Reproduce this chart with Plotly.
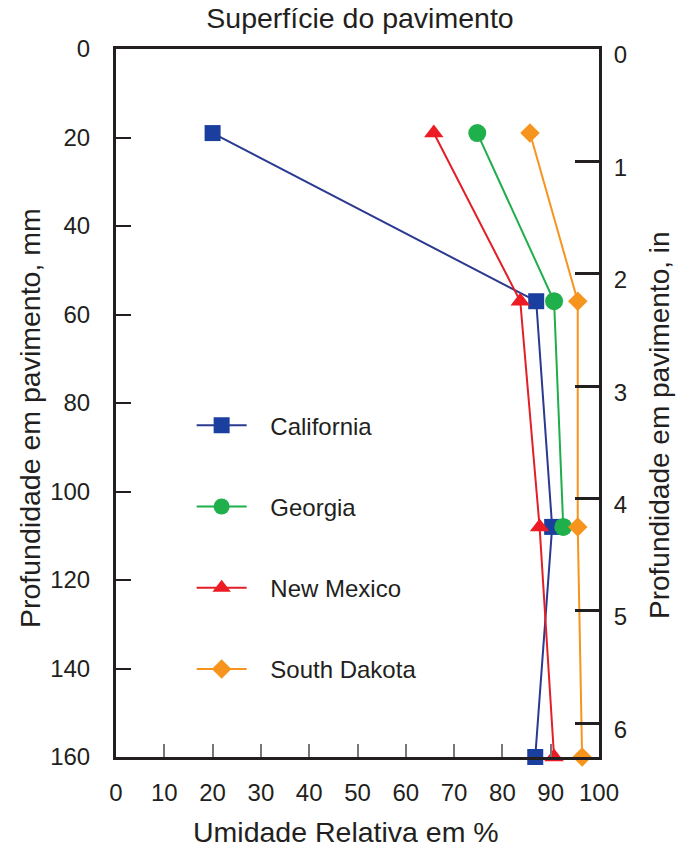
import plotly.graph_objects as go

series_names = ["California", "Georgia", "New Mexico", "South Dakota"]
cal_rh = [20, 87, 90.3, 86.8]
cal_depth = [19, 57, 108, 160]
geo_rh = [74.8, 90.7, 92.6]
geo_depth = [19, 57, 108]
nm_rh = [65.8, 83.7, 87.7, 90.7]
nm_depth = [19, 57, 108, 160]
sd_rh = [85.7, 95.6, 95.6, 96.5]
sd_depth = [19, 57, 108, 160]

x_ticks = [0, 10, 20, 30, 40, 50, 60, 70, 80, 90, 100]
y_ticks_mm = [0, 20, 40, 60, 80, 100, 120, 140, 160]
y_ticks_in = [0, 1, 2, 3, 4, 5, 6]
MM_PER_IN = 25.4

colors = {"California": "#2b3990", "Georgia": "#1fae4b", "New Mexico": "#e21f26", "South Dakota": "#f7941d"}
mcolors = {"California": "#1b3f9e", "Georgia": "#1fb04c", "New Mexico": "#ed1c24", "South Dakota": "#f7941d"}
symbols = {"California": "square", "Georgia": "circle", "New Mexico": "triangle-up", "South Dakota": "diamond"}
sizes = {"California": 16, "Georgia": 18, "New Mexico": 17, "South Dakota": 15}
data = {"California": (cal_rh, cal_depth), "Georgia": (geo_rh, geo_depth),
        "New Mexico": (nm_rh, nm_depth), "South Dakota": (sd_rh, sd_depth)}

FONT = "Liberation Sans, Arial, sans-serif"
TXT = "#231f20"
GAP = "\u2002\u00a0"
fig = go.Figure()
for name in series_names:
    xs, ys = data[name]
    fig.add_trace(go.Scatter(
        x=xs, y=ys, name=GAP + name, mode="lines+markers",
        line=dict(color=colors[name], width=2),
        marker=dict(symbol=symbols[name], size=sizes[name], color=mcolors[name]),
        cliponaxis=False, legendgroup=name,
    ))

fig.add_trace(go.Scatter(x=[0], y=[0], yaxis="y2", mode="markers",
                         marker=dict(opacity=0), showlegend=False, hoverinfo="skip"))

L, R, T, B = 116, 77, 49, 91
W, H = 676, 848
pw, ph = W - L - R, H - T - B

fig.update_layout(
    width=W, height=H,
    paper_bgcolor="white", plot_bgcolor="white",
    margin=dict(l=L, r=R, t=T, b=B, autoexpand=False),
    font=dict(family=FONT, size=24, color=TXT),
    title=dict(text="Superfície do pavimento", xref="container", yref="container",
               x=360 / W, xanchor="center", y=1 - 18 / H, yanchor="middle",
               font=dict(size=28.5, family=FONT, color=TXT)),
    xaxis=dict(range=[0, 100], tickvals=x_ticks, ticks="inside", ticklen=13, tickwidth=1.5,
               tickcolor="#777777", showline=True, linewidth=3, linecolor=TXT, mirror=True,
               showgrid=False, zeroline=False, automargin=False, ticklabelstandoff=12,
               tickfont=dict(size=24)),
    yaxis=dict(range=[160, 0], tickvals=y_ticks_mm, ticks="inside", ticklen=15, tickwidth=1.5,
               tickcolor=TXT, showline=True, linewidth=3, linecolor=TXT,
               showgrid=False, zeroline=False, automargin=False, ticklabelstandoff=18,
               tickfont=dict(size=24)),
    yaxis2=dict(overlaying="y", side="right", range=[160 / MM_PER_IN, 0], tickvals=y_ticks_in,
                ticks="inside", ticklen=24, tickwidth=3, tickcolor=TXT,
                showline=True, linewidth=3, linecolor=TXT, showgrid=False, zeroline=False,
                automargin=False, ticklabelstandoff=7, ticklabelshift=-6,
                tickfont=dict(size=24)),
    legend=dict(x=0.1566, y=0.4997, xanchor="left", yanchor="top", bgcolor="rgba(0,0,0,0)",
                font=dict(size=24, color=TXT), traceorder="grouped", tracegroupgap=47,
                itemwidth=50),
    showlegend=True,
    annotations=[
        dict(text="Umidade Relativa em %", xref="paper", yref="paper",
             x=(346 - L) / pw, y=-(832 - (H - B)) / ph, xanchor="center", yanchor="middle",
             showarrow=False, font=dict(size=28.5, color=TXT)),
        dict(text="Profundidade em pavimento, mm", xref="paper", yref="paper",
             x=(30 - L) / pw, y=1 - (418 - T) / ph, xanchor="center", yanchor="middle",
             textangle=-90, showarrow=False, font=dict(size=28.5, color=TXT)),
        dict(text="Profundidade em pavimento, in", xref="paper", yref="paper",
             x=(659 - L) / pw, y=1 - (425 - T) / ph, xanchor="center", yanchor="middle",
             textangle=-90, showarrow=False, font=dict(size=28, color=TXT)),
    ],
)

fig.write_html("out.html", config={"displayModeBar": False},
               post_script="document.body.style.margin='0';")
